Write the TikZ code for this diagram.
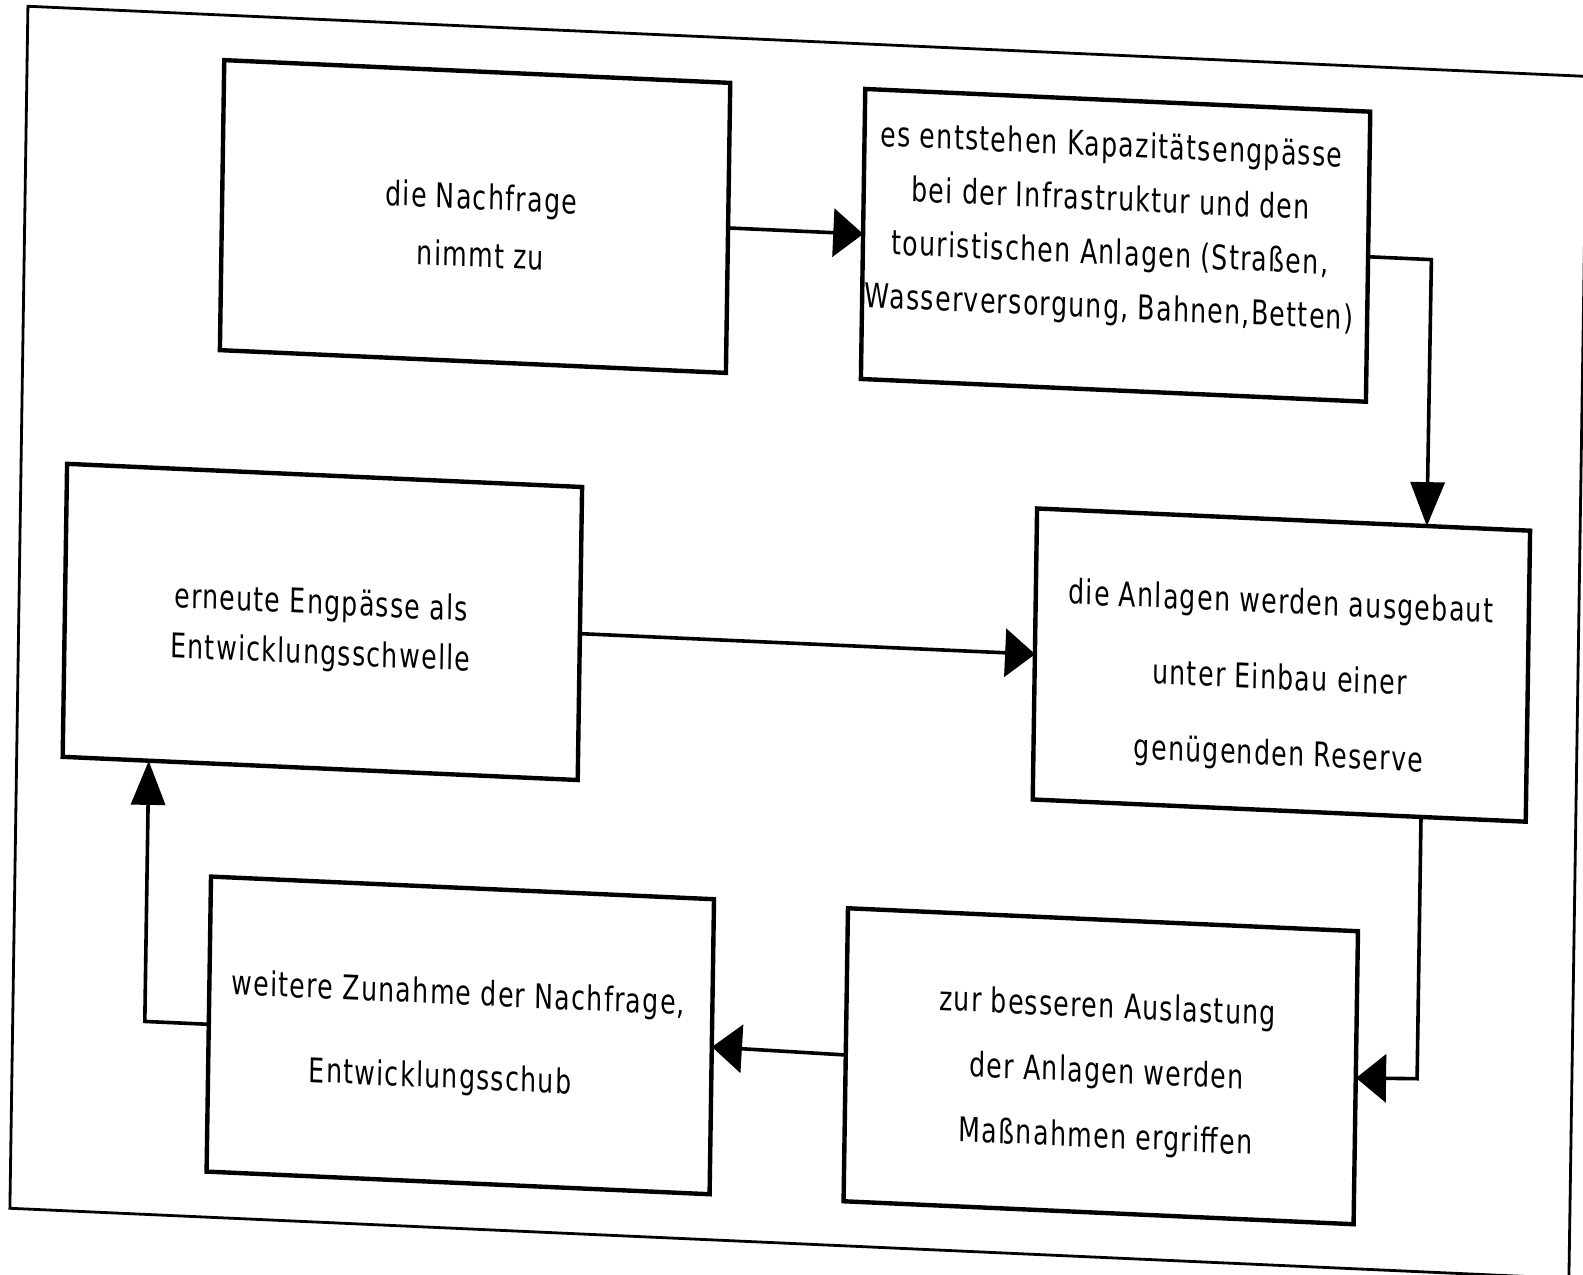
\documentclass[tikz,border=0pt]{standalone}
\usepackage{fontspec}
\setmainfont{DejaVu Sans}[FakeStretch=0.74,LetterSpace=4]
\usetikzlibrary{arrows.meta,calc}
\begin{document}
\begin{tikzpicture}[x=0.5pt,y=-0.5pt,
  frame/.style={draw,line width=1.4pt},
  box/.style={draw,line width=2.2pt,inner sep=0pt,outer sep=0pt,transform shape},
  lbl/.style={align=center,inner sep=0pt,transform shape,font=\fontsize{17pt}{25pt}\selectfont},
  conn/.style={line width=1.8pt},
  htip/.style={-{Triangle[length=15pt,width=24pt]}},
  vtip/.style={-{Triangle[length=22pt,width=17pt]}}]
\useasboundingbox (0,0) rectangle (1583,1274);
\begin{scope}[cm={1,-0.045,0.015,1,(0,0)}]
\draw[frame] (28,5) rectangle (1587,1207);
\node[box,minimum width=253pt,minimum height=145pt] (b1) at (478,195) {};
\node[box,minimum width=252.5pt,minimum height=145pt] (b2) at (1118.5,195) {};
\node[box,minimum width=257.5pt,minimum height=146.5pt] (b3) at (331.5,607) {};
\node[box,minimum width=246.5pt,minimum height=145.5pt] (b4) at (1290.5,607) {};
\node[box,minimum width=251.5pt,minimum height=147.5pt] (b5) at (475.5,1014) {};
\node[box,minimum width=255pt,minimum height=146.5pt] (b6) at (1116,1016) {};
\node[lbl] (t1) at (484,204) {die Nachfrage\\[4pt]nimmt zu};
\node[lbl] (t2) at (1113,178) {es entstehen Kapazitätsengpässe\\[2pt]bei der Infrastruktur und den\\[2pt]touristischen Anlagen (Straßen,\\[2pt]Wasserversorgung, Bahnen,Betten)};
\node[lbl] (t3) at (330,615) {erneute Engpässe als\\Entwicklungsschwelle};
\node[lbl] (t4) at (1289,622) {die Anlagen werden ausgebaut\\[13pt]unter Einbau einer\\[13pt]genügenden Reserve};
\node[lbl] (t5) at (473,1016) {weitere Zunahme der Nachfrage,\\[17pt]Entwicklungsschub\hspace*{17pt}};
\node[lbl] (t6) at (1122,1023) {zur besseren Auslastung\\[7.5pt]der Anlagen werden\\[7.5pt]Maßnahmen ergriffen};
\coordinate (c2) at (1434,195);
\coordinate (c4) at (1432,1014);
\coordinate (c6) at (160,1014);
\draw[conn,htip] (b1.east) -- (b2.west);
\draw[conn,vtip] (b2.east) -- (c2) -- ($(b4.north west)!0.79!(b4.north east)$);
\draw[conn,htip] (b3.east) -- (b4.west);
\draw[conn,htip] ($(b4.south west)!0.787!(b4.south east)$) -- (c4) -- (b6.east);
\draw[conn,htip] (b6.west) -- (b5.east);
\draw[conn,vtip] (b5.west) -- (c6) -- ($(b3.south west)!0.167!(b3.south east)$);
\end{scope}
\end{tikzpicture}
\end{document}
